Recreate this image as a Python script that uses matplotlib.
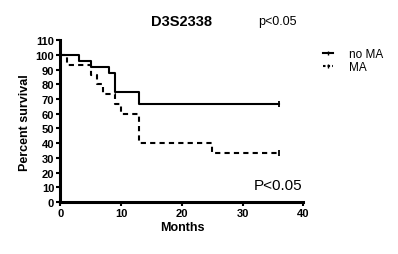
import numpy as np
import matplotlib.pyplot as plt
from matplotlib.lines import Line2D

plt.rcParams['font.family'] = ['Liberation Sans', 'DejaVu Sans']

# Kaplan-Meier steps (months, percent survival)
no_ma_t = [0, 3, 5, 8, 9, 13, 36]
no_ma_s = [100, 95.8, 91.7, 87.5, 75.0, 66.7, 66.7]
ma_t = [0, 1, 5, 6, 7, 9, 10, 13, 25, 36]
ma_s = [100, 93.3, 86.7, 80.0, 73.3, 66.7, 60.0, 40.0, 33.3, 33.3]

dash = (0, (2.5, 2))

fig = plt.figure(figsize=(3.98, 2.55), dpi=100)
ax = fig.add_axes([0.152, 0.204, 0.610, 0.634])

ax.step(no_ma_t, no_ma_s, where='post', color='black', lw=1.5)
ax.step(ma_t, ma_s, where='post', color='black', lw=1.5, linestyle=dash)
# censor marks at last follow-up
ax.plot([no_ma_t[-1]], [no_ma_s[-1]], marker='|', color='black', ms=4, mew=1.3)
ax.plot([ma_t[-1]], [ma_s[-1]], marker='|', color='black', ms=4, mew=1.3)

ax.set_xlim(0, 40)
ax.set_ylim(0, 110)
ax.set_xticks([0, 10, 20, 30, 40])
ax.set_yticks(np.arange(0, 111, 10))
for s in ['top', 'right']:
    ax.spines[s].set_visible(False)
for s in ['left', 'bottom']:
    ax.spines[s].set_linewidth(2.2)
ax.tick_params(width=1.5, length=3, labelsize=8, pad=1.5)
for lab in ax.get_xticklabels() + ax.get_yticklabels():
    lab.set_fontweight('bold')

ax.set_xlabel('Months', fontsize=9, fontweight='bold', labelpad=2)
ax.set_ylabel('Percent survival', fontsize=9, fontweight='bold', labelpad=3)

fig.text(0.456, 0.915, 'D3S2338', fontsize=10.5, fontweight='bold', ha='center', va='center')
fig.text(0.648, 0.915, 'p<0.05', fontsize=9, ha='left', va='center')
ax.text(0.995, 0.06, 'P<0.05', transform=ax.transAxes, fontsize=11,
        ha='right', va='bottom')

handles = [Line2D([], [], color='black', lw=1.5, marker='|', ms=2.5, mew=1),
           Line2D([], [], color='black', lw=1.5, linestyle=(0, (1.2, 1)),
                  marker='|', ms=2.5, mew=1)]
fig.legend(handles, ['no MA', 'MA'], loc='upper left',
           bbox_to_anchor=(0.80, 0.825), frameon=False, numpoints=1,
           fontsize=8.5, handlelength=0.8, handletextpad=1.4,
           labelspacing=0.05, borderaxespad=0)

fig.savefig('out.png', dpi=100)
